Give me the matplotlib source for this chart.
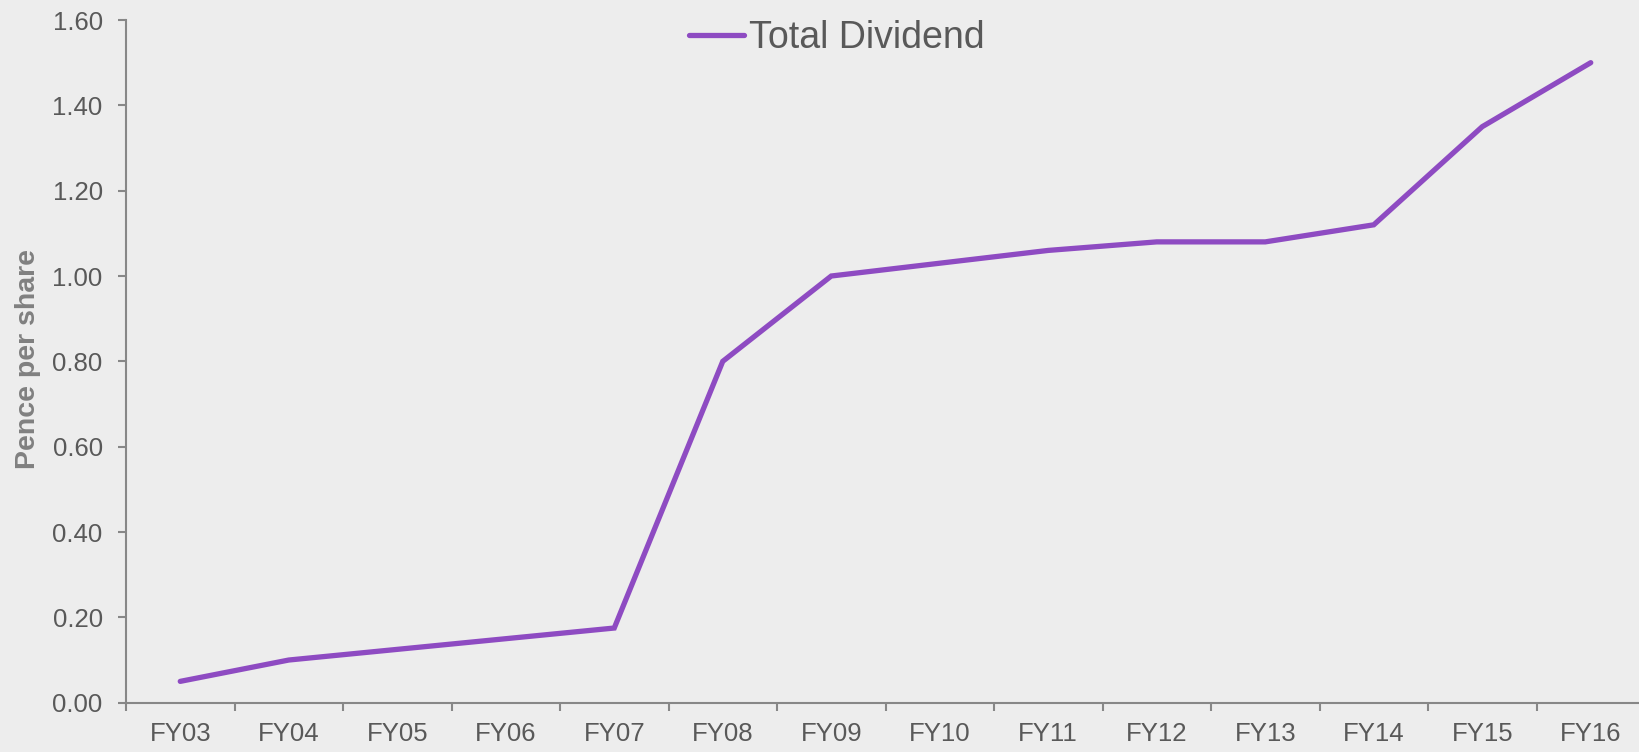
import matplotlib
matplotlib.use("Agg")
import matplotlib.pyplot as plt
import numpy as np

categories = ["FY03", "FY04", "FY05", "FY06", "FY07", "FY08", "FY09",
              "FY10", "FY11", "FY12", "FY13", "FY14", "FY15", "FY16"]
total_dividend = [0.05, 0.10, 0.125, 0.15, 0.175, 0.80, 1.00,
                  1.03, 1.06, 1.08, 1.08, 1.12, 1.35, 1.50]
yticks = [0.0, 0.2, 0.4, 0.6, 0.8, 1.0, 1.2, 1.4, 1.6]

plt.rcParams['font.family'] = ['Liberation Sans', 'DejaVu Sans']

bg = "#EDEDED"
fig = plt.figure(figsize=(16.4, 7.52), dpi=100, facecolor=bg)
ax = fig.add_axes([126/1640, 49.3/752, (1645-126)/1640, (702.7-20)/752])
ax.set_facecolor(bg)

x = np.arange(len(categories))
ax.plot(x, total_dividend, color="#8E4BC2", lw=3.8, solid_capstyle="round",
        solid_joinstyle="miter", label="Total Dividend")

ax.set_xlim(-0.5, len(categories) - 0.5)
ax.set_ylim(0, 1.6)
ax.set_yticks(yticks)
ax.set_yticklabels([f"{v:.2f}" for v in yticks])
ax.set_xticks(x)
ax.set_xticklabels(categories)
ax.set_xticks(np.arange(-0.5, len(categories) - 0.5, 1.0), minor=True)

for s in ["top", "right"]:
    ax.spines[s].set_visible(False)
for s in ["left", "bottom"]:
    ax.spines[s].set_color("#878787")
    ax.spines[s].set_linewidth(1.5)

ax.tick_params(axis="y", which="major", length=5.8, width=1.5, color="#878787",
               labelsize=18.5, labelcolor="#595959", pad=11)
ax.tick_params(axis="x", which="major", length=0, labelsize=18.5,
               labelcolor="#595959", pad=14)
ax.tick_params(axis="x", which="minor", length=5.8, width=1.5, color="#878787")

fig.text(28/1640, 1 - 359/752, "Pence per share", rotation=90, ha="center",
         va="center", fontsize=20.5, fontweight="bold", color="#808080")

leg = fig.legend(loc="center", bbox_to_anchor=(837/1640, 1 - 38/752),
                 frameon=False, fontsize=27, handlelength=1.45,
                 handletextpad=0.15, labelcolor="#595959")

fig.savefig("out.png", dpi=100, facecolor=bg)
